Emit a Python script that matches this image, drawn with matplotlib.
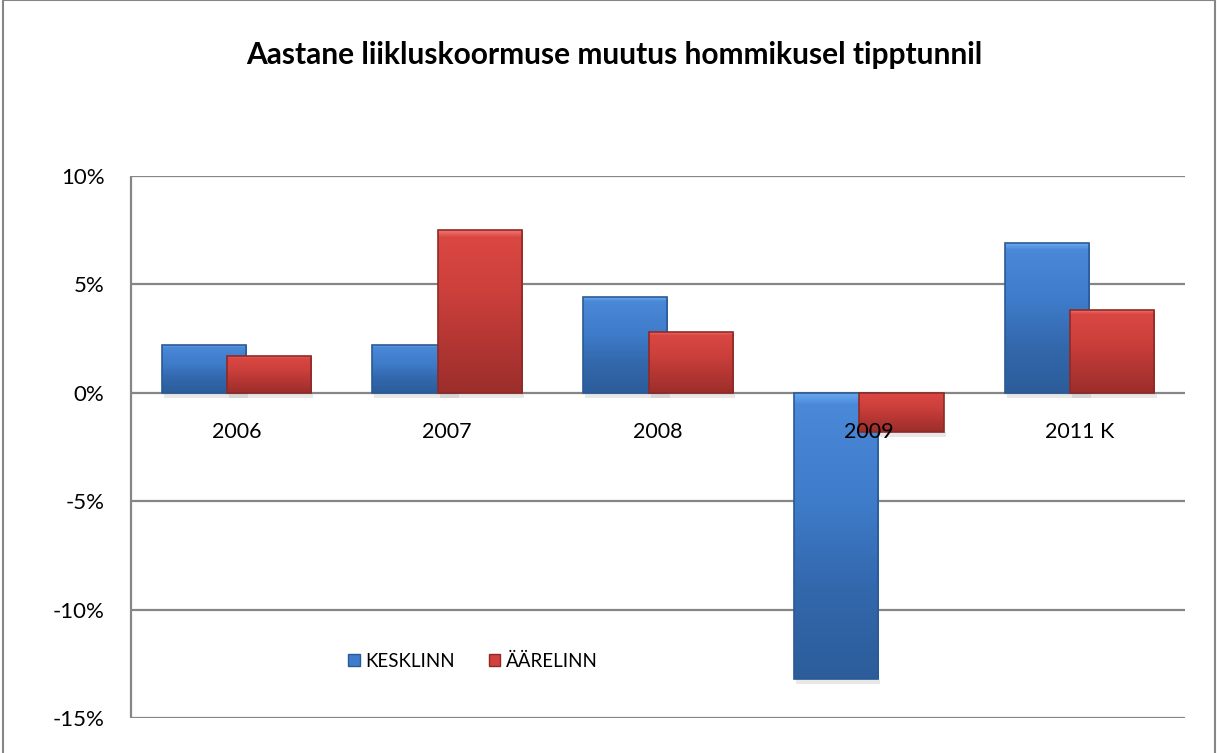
import numpy as np
import matplotlib.pyplot as plt
from matplotlib.colors import LinearSegmentedColormap
from matplotlib.patches import Rectangle

# andmed
years = ["2006", "2007", "2008", "2009", "2011 K"]
kesklinn = [2.2, 2.2, 4.4, -13.2, 6.9]
aarelinn = [1.7, 7.5, 2.8, -1.8, 3.8]
y_ticks = [10, 5, 0, -5, -10, -15]

plt.rcParams['font.family'] = ['Lato', 'DejaVu Sans']

fig = plt.figure(figsize=(12.17, 7.53), dpi=100)
ax = fig.add_axes([131/1217, 1 - 718/753, (1185 - 131)/1217, (718 - 176)/753])

x = np.arange(len(years))
w = 0.40
off = 0.155

blue_cm = LinearSegmentedColormap.from_list("b", ["#6AAAF0", "#4A88D8", "#3F7DCB", "#3368AD", "#2C5D9A"])
red_cm = LinearSegmentedColormap.from_list("r", ["#F27470", "#DA4742", "#CD403C", "#B43633", "#9C2E2B"])


def gradient_bars(xs, vals, cmap, edge, z):
    bars = ax.bar(xs, vals, w, color="none", edgecolor=edge, linewidth=1.2, zorder=z + 0.2)
    grad = np.concatenate([np.linspace(0, 0.25, 12), np.linspace(0.25, 1, 244)]).reshape(-1, 1)
    for b, v in zip(bars, vals):
        x0 = b.get_x()
        x1 = x0 + b.get_width()
        # valgem ülal, tumedam all
        top, bot = max(v, 0), min(v, 0)
        bg = Rectangle((x0, bot), x1 - x0, top - bot, facecolor="none", edgecolor="none")
        ax.add_patch(bg)
        im = ax.imshow(grad, cmap=cmap, aspect="auto", extent=(x0, x1, bot, top),
                       origin="upper", zorder=z, interpolation="bicubic")
        im.set_clip_path(bg)
        # vari all serva
        ax.add_patch(Rectangle((x0 + 0.01, bot - 0.25), x1 - x0, 0.25, facecolor="#999999",
                               alpha=0.22, edgecolor="none", zorder=1.5))
    return bars


gradient_bars(x - off, kesklinn, blue_cm, "#2A5A95", 3)
gradient_bars(x + off, aarelinn, red_cm, "#8E2A27", 4)

ax.set_xlim(-0.5, 4.5)
ax.set_ylim(-15, 10)
ax.set_yticks(y_ticks)
ax.set_yticklabels([f"{t}%" for t in y_ticks], fontsize=16)
ax.tick_params(axis="y", length=0, width=0, pad=19)
ax.set_xticks([])
ax.grid(axis="y", color="#868686", linewidth=1.6, zorder=1, solid_capstyle="butt")
ax.set_axisbelow(True)
for s in ["top", "right", "bottom"]:
    ax.spines[s].set_visible(False)
ax.spines["left"].set_color("#868686")
ax.spines["left"].set_linewidth(1.6)
ax.spines["left"].set_capstyle("butt")

for i, lab in enumerate(years):
    ax.text(i, -1.8, lab, ha="center", va="center", fontsize=15.5, zorder=6)

h1 = Rectangle((0, 0), 1, 1, facecolor="#3F7DCB", edgecolor="#2A5A95")
h2 = Rectangle((0, 0), 1, 1, facecolor="#CF423D", edgecolor="#8E2A27")
fig.legend([h1, h2], ["KESKLINN", "ÄÄRELINN"], loc="center", bbox_to_anchor=(473/1217, 1 - 661/753),
           ncol=2, frameon=False, fontsize=13.5, handlelength=0.6, handleheight=0.6,
           handletextpad=0.3, columnspacing=1.8)

fig.text(614/1217, 1 - 55/753, "Aastane liikluskoormuse muutus hommikusel tipptunnil",
         ha="center", va="center", fontsize=21.5, fontweight="bold")

# raam ümber diagrammi
fig.patches.append(Rectangle((3/1217, -0.01), (1215 - 3)/1217, 1.0 + 0.0095, transform=fig.transFigure,
                             fill=False, edgecolor="#868686", linewidth=1.5))

fig.savefig("out.png", dpi=100)
